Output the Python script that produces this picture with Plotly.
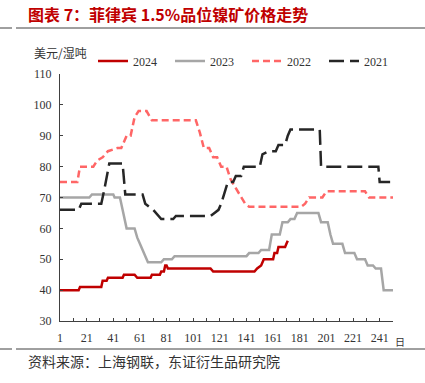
import plotly.graph_objects as go

# ---- data (day of year, USD / wet ton) ----
days_2024 = [1, 15, 16, 32, 33, 36, 37, 48, 49, 57, 59, 69, 70, 76, 77, 79, 80, 81, 82, 114, 116, 147, 149, 152, 154, 161, 162, 164, 165, 170, 171, 172]
price_2024 = [40, 40, 41, 41, 43, 43, 44, 44, 45, 45, 44, 44, 45, 45, 46, 46, 48, 48, 47, 47, 46, 46, 47, 48, 50, 50, 52, 52, 54, 54, 55, 56]

days_2023 = [1, 23, 25, 41, 42, 46, 48, 50, 51, 57, 59, 61, 63, 65, 67, 68, 77, 79, 85, 87, 141, 143, 150, 152, 158, 160, 166, 168, 172, 174, 177, 179, 195, 197, 202, 204, 206, 213, 215, 222, 224, 230, 232, 236, 238, 242, 244, 251]
price_2023 = [70, 70, 71, 71, 70, 70, 66, 62, 60, 60, 57, 55, 53, 51, 49, 49, 49, 50, 50, 51, 51, 52, 52, 53, 53, 58, 58, 62, 62, 63, 63, 65, 65, 62, 62, 58, 55, 55, 52, 52, 50, 50, 48, 48, 47, 47, 40, 40]

days_2022 = [1, 14, 16, 26, 29, 33, 37, 44, 47, 51, 54, 57, 60, 66, 70, 72, 103, 106, 109, 113, 116, 119, 122, 126, 129, 133, 137, 140, 143, 182, 185, 188, 198, 201, 230, 233, 251]
price_2022 = [75, 75, 80, 80, 82, 83, 85, 86, 86, 90, 90, 96, 98, 98, 95, 95, 95, 91, 86, 86, 83, 83, 80, 80, 76, 73, 70, 68, 67, 67, 68, 70, 70, 72, 72, 70, 70]

days_2021 = [1, 15, 17, 32, 34, 36, 38, 48, 49, 50, 63, 65, 71, 73, 77, 79, 86, 88, 114, 117, 120, 122, 124, 127, 131, 133, 137, 139, 151, 153, 158, 163, 165, 170, 172, 174, 196, 197, 240, 241, 251]
price_2021 = [66, 66, 68, 68, 72, 76, 81, 81, 76, 71, 71, 68, 66, 65, 63, 63, 63, 64, 64, 65, 66, 68, 71, 75, 75, 77, 77, 80, 80, 84, 85, 85, 87, 87, 90, 92, 92, 80, 80, 75, 75]

x_ticks = [1, 21, 41, 61, 81, 101, 121, 141, 161, 181, 201, 221, 241]
y_ticks = [30, 40, 50, 60, 70, 80, 90, 100, 110]

title_text = "图表 7：菲律宾 1.5%品位镍矿价格走势"
source_text = "资料来源：上海钢联，东证衍生品研究院"
unit_text = "美元/湿吨"
xunit_text = "日"

SERIF = "Liberation Serif, Times New Roman, serif"
CJK = "Noto Sans CJK SC"

fig = go.Figure()
fig.add_trace(go.Scatter(x=days_2024, y=price_2024, name="2024", mode="lines",
                         line=dict(color="#C00000", width=2.5)))
fig.add_trace(go.Scatter(x=days_2023, y=price_2023, name="2023", mode="lines",
                         line=dict(color="#A6A6A6", width=2.5)))
fig.add_trace(go.Scatter(x=days_2022, y=price_2022, name="2022", mode="lines",
                         line=dict(color="#FF6666", width=2.5, dash="7px,4px")))
fig.add_trace(go.Scatter(x=days_2021, y=price_2021, name="2021", mode="lines",
                         line=dict(color="#262626", width=2.5, dash="15px,6px")))

L, R, T, B = 60, 32, 74, 62
W, H = 425, 383
pw, ph = W - L - R, H - T - B

def px_x(p):
    return (p - L) / pw

def px_y(p):
    return (H - B - p) / ph

fig.update_layout(
    width=W, height=H,
    margin=dict(l=L, r=R, t=T, b=B),
    paper_bgcolor="white", plot_bgcolor="white",
    showlegend=True,
    legend=dict(orientation="h", x=px_x(93), y=px_y(61), xanchor="left", yanchor="middle",
                font=dict(family=SERIF, size=12, color="#333333"),
                entrywidth=32, entrywidthmode="pixels", bgcolor="rgba(0,0,0,0)",
                tracegroupgap=0, itemwidth=30),
    xaxis=dict(range=[1, 251], tickvals=x_ticks, ticktext=[str(v) for v in x_ticks],
               showgrid=False, zeroline=False, showline=True, linecolor="#404040", linewidth=1,
               ticks="inside", ticklen=3, tickcolor="#404040", ticklabelstandoff=6,
               minor=dict(tick0=1, dtick=10, ticks="inside", ticklen=3, tickcolor="#404040"),
               tickfont=dict(family=SERIF, size=12, color="#333333")),
    yaxis=dict(range=[30, 110], tickvals=y_ticks,
               showgrid=False, zeroline=False, showline=True, linecolor="#404040", linewidth=1,
               ticks="inside", ticklen=3, tickcolor="#404040", ticklabelstandoff=5,
               tickfont=dict(family=SERIF, size=12, color="#333333")),
)

ann = []
ann.append(dict(text="<b>" + title_text + "</b>", xref="paper", yref="paper",
                x=px_x(26), y=px_y(14), xanchor="left", yanchor="middle", showarrow=False,
                font=dict(family=CJK, size=16, color="#C00000")))
ann.append(dict(text=unit_text, xref="paper", yref="paper",
                x=px_x(32), y=px_y(52), xanchor="left", yanchor="middle", showarrow=False,
                font=dict(family=CJK, size=12, color="#333333")))
ann.append(dict(text=xunit_text, xref="paper", yref="paper",
                x=px_x(400), y=px_y(341), xanchor="center", yanchor="middle", showarrow=False,
                font=dict(family=CJK, size=10, color="#333333")))
ann.append(dict(text=source_text, xref="paper", yref="paper",
                x=px_x(26), y=px_y(361), xanchor="left", yanchor="middle", showarrow=False,
                font=dict(family=CJK, size=14, color="#333333")))
fig.update_layout(annotations=ann)

shapes = []
for yy in (28, 349):
    shapes.append(dict(type="line", xref="paper", yref="paper", x0=px_x(0), x1=px_x(12),
                       y0=px_y(yy), y1=px_y(yy), line=dict(color="#404040", width=1)))
    shapes.append(dict(type="line", xref="paper", yref="paper", x0=px_x(16), x1=px_x(425),
                       y0=px_y(yy), y1=px_y(yy), line=dict(color="#404040", width=1)))
fig.update_layout(shapes=shapes)

fig.write_html("out.html", config={"displayModeBar": False},
               post_script="document.body.style.margin='0';document.body.style.overflow='hidden';")
